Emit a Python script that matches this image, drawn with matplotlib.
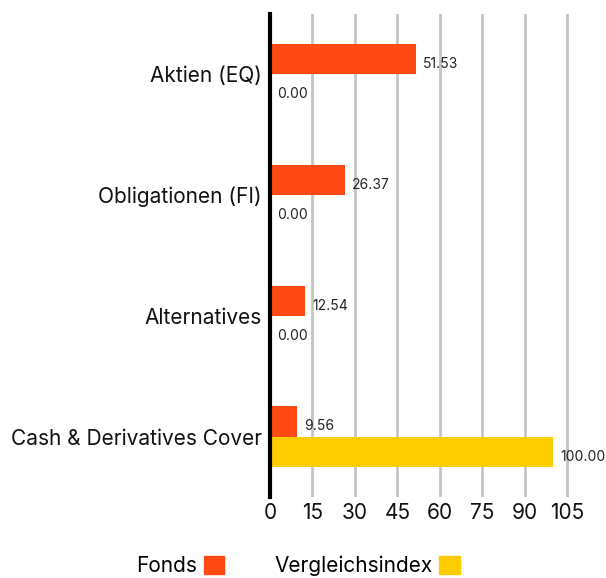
import matplotlib.pyplot as plt
import numpy as np
from matplotlib.patches import Patch

plt.rcParams['font.family'] = ['Inter', 'DejaVu Sans']

categories = ['Aktien (EQ)', 'Obligationen (FI)', 'Alternatives', 'Cash & Derivatives Cover']
fonds = [51.53, 26.37, 12.54, 9.56]
index = [0.00, 0.00, 0.00, 100.00]
xticks = [0, 15, 30, 45, 60, 75, 90, 105]

c_fonds = '#ff4a14'
c_index = '#ffcc00'

fig = plt.figure(figsize=(6.06, 5.78), dpi=100)
ax = fig.add_axes([0.4455, 0.140, 0.4955, 0.836])

y = np.arange(len(categories))
h = 0.25
b1 = ax.barh(y - h / 2, fonds, height=h, color=c_fonds, zorder=3)
b2 = ax.barh(y + h / 2, index, height=h, color=c_index, zorder=3)
labs = ax.bar_label(b1, labels=['%.2f' % v for v in fonds], padding=5, fontsize=10, color='#222222')
labs += ax.bar_label(b2, labels=['%.2f' % v for v in index], padding=5, fontsize=10, color='#222222')
# value labels sit a bit below the bar centre
for t in labs:
    x0, y0 = t.xyann
    t.xyann = (x0, y0 - 3.5)

ax.set_ylim(3.5, -0.5)
ax.set_xlim(0, 106)
ax.set_yticks(y)
ax.set_yticklabels(categories, fontsize=15, color='#111111')
ax.set_xticks(xticks)
ax.set_xticklabels([str(t) for t in xticks], fontsize=15, color='#111111')
ax.tick_params(length=0)
ax.tick_params(axis='y', pad=6)
ax.tick_params(axis='x', pad=4)

ax.grid(axis='x', color='#c4c4c4', linewidth=2, zorder=0)
for s in ['top', 'right', 'bottom']:
    ax.spines[s].set_visible(False)
ax.spines['left'].set_linewidth(3)
ax.spines['left'].set_color('black')
ax.spines['left'].set_zorder(4)

handles = [Patch(color=c_fonds), Patch(color=c_index)]
fig.legend(handles, ['Fonds', 'Vergleichsindex'], loc='center', bbox_to_anchor=(0.492, 0.021),
           ncol=2, frameon=False, markerfirst=False, fontsize=15, handlelength=1.0,
           handleheight=1.0, columnspacing=2.4, handletextpad=0.3)

plt.savefig('out.png', dpi=100)
